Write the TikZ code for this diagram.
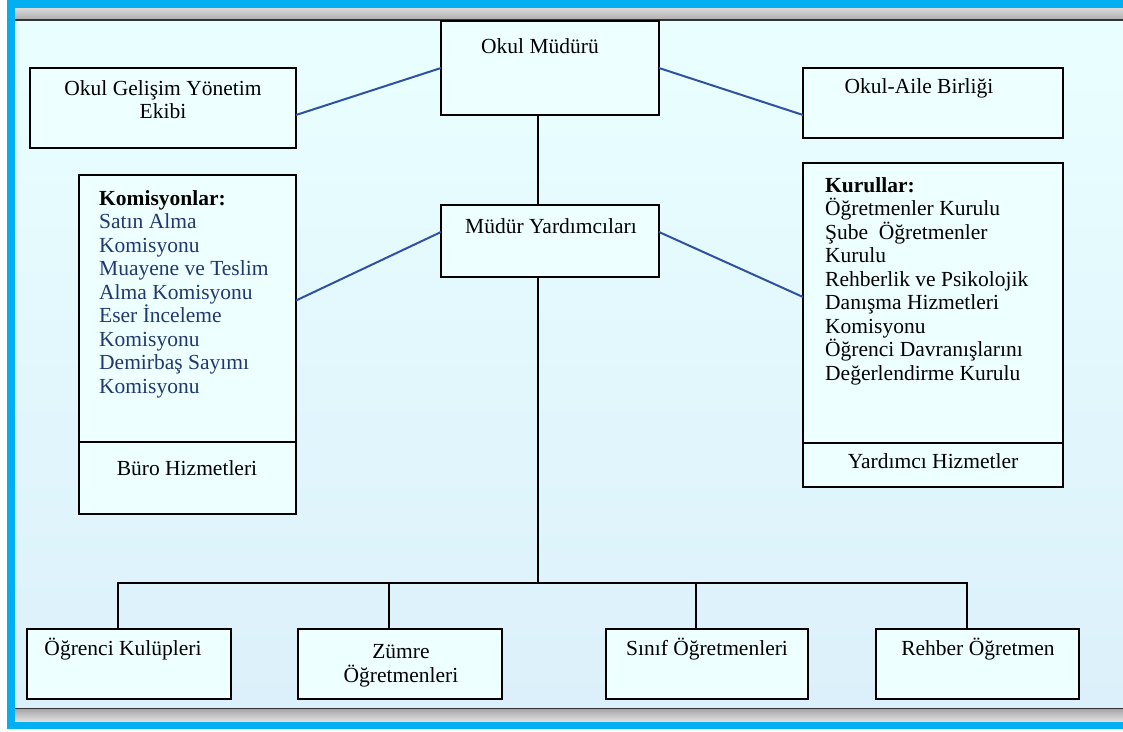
\documentclass[tikz,border=0pt]{standalone}
\usepackage{fontspec}
\setmainfont{Liberation Serif}
\usetikzlibrary{positioning}
\definecolor{framecyan}{RGB}{0,176,240}
\definecolor{paneltop}{RGB}{233,255,255}
\definecolor{panelbot}{RGB}{219,240,250}
\definecolor{boxfill}{RGB}{238,255,255}
\definecolor{linkblue}{RGB}{47,82,160}
\definecolor{listblue}{RGB}{32,56,112}

\tikzset{
  orgbox/.style={draw=black, line width=2pt, fill=boxfill, inner sep=0pt, outer sep=0pt},
  lbl/.style={inner sep=0pt, font=\fontsize{21.5}{23.5}\selectfont},
  link/.style={linkblue, line width=2pt},
  stem/.style={black, line width=2pt},
}

\begin{document}
\begin{tikzpicture}[x=1pt,y=-1pt]
  \useasboundingbox (0,0) rectangle (1123,731);
  % frame and panel
  \fill[white] (0,0) rectangle (1123,731);
  \fill[framecyan] (7,0) rectangle (1123,729);
  \shade[top color=gray!30, bottom color=gray!65] (15,8) rectangle (1123,20);
  \shade[top color=gray!70, bottom color=gray!25] (15,709) rectangle (1123,721);
  \shade[top color=paneltop, bottom color=panelbot] (15,21) rectangle (1123,708);
  \draw[line width=2pt, black!80] (15,20) -- (1123,20);
  \draw[line width=1.5pt, black!80] (15,708.5) -- (1123,708.5);

  % boxes
  \node[orgbox, minimum width=218pt, minimum height=94pt] (mudur) at (550,68) {};
  \node[orgbox, minimum width=266pt, minimum height=80pt] (ogye) at (163,108) {};
  \node[orgbox, minimum width=260pt, minimum height=70pt] (aile) at (933,103) {};
  \node[orgbox, minimum width=218pt, minimum height=72pt] (yard) at (550,241) {};
  \node[orgbox, minimum width=217pt, minimum height=267pt] (komis) at (187.5,308.5) {};
  \node[orgbox, minimum width=217pt, minimum height=72pt, below=0pt of komis] (buro) {};
  \node[orgbox, minimum width=260pt, minimum height=280pt] (kurul) at (933,303) {};
  \node[orgbox, minimum width=260pt, minimum height=44pt, below=0pt of kurul] (yhiz) {};
  \node[orgbox, minimum width=204pt, minimum height=70pt] (ogr) at (129,664) {};
  \node[orgbox, minimum width=204pt, minimum height=70pt] (zum) at (400,664) {};
  \node[orgbox, minimum width=202pt, minimum height=70pt] (sin) at (707,664) {};
  \node[orgbox, minimum width=203pt, minimum height=70pt] (reh) at (977.5,664) {};

  % texts (multi-line ones sit on the baseline of their last line)
  \node[lbl, anchor=base] (mudur-t) at (540,53) {Okul Müdürü};
  \node[lbl, anchor=base, align=center] (ogye-t) at (163,118.5) {Okul Gelişim Yönetim\\Ekibi};
  \node[lbl, anchor=base] (aile-t) at (919,93) {Okul-Aile Birliği};
  \node[lbl, anchor=base] (yard-t) at (551,233) {Müdür Yardımcıları};
  \node[lbl, anchor=base west, align=left, text=listblue] (komis-t) at (99,393)
    {\textcolor{black}{\textbf{Komisyonlar:}}\\Satın Alma\\Komisyonu\\Muayene ve Teslim\\Alma Komisyonu\\Eser İnceleme\\Komisyonu\\Demirbaş Sayımı\\Komisyonu};
  \node[lbl, anchor=base] (buro-t) at (187,475) {Büro Hizmetleri};
  \node[lbl, anchor=base west, align=left] (kurul-t) at (825,380)
    {\textbf{Kurullar:}\\Öğretmenler Kurulu\\Şube~ Öğretmenler\\Kurulu\\Rehberlik ve Psikolojik\\Danışma Hizmetleri\\Komisyonu\\Öğrenci Davranışlarını\\Değerlendirme Kurulu};
  \node[lbl, anchor=base] (yhiz-t) at (933,468) {Yardımcı Hizmetler};
  \node[lbl, anchor=base] (ogr-t) at (123,655) {Öğrenci Kulüpleri};
  \node[lbl, anchor=base, align=center] (zum-t) at (401,682) {Zümre\\Öğretmenleri};
  \node[lbl, anchor=base] (sin-t) at (707,655) {Sınıf Öğretmenleri};
  \node[lbl, anchor=base] (reh-t) at (978,655) {Rehber Öğretmen};

  % blue links
  \draw[link] (mudur.west) -- ([yshift=-7pt]ogye.east);
  \draw[link] (mudur.east) -- ([yshift=-12pt]aile.west);
  \draw[link] ([yshift=9pt]yard.west) -- ([yshift=8pt]komis.east);
  \draw[link] ([yshift=9pt]yard.east) -- ([yshift=6pt]kurul.west);

  % trunk and bus
  \coordinate (bus) at (538,583);
  \draw[stem] (mudur.south -| bus) -- (yard.north -| bus);
  \draw[stem] (yard.south -| bus) -- (bus);
  \foreach \n in {ogr,zum,sin,reh} \coordinate (\n-up) at ([xshift=-11pt]\n.north);
  \draw[stem] (ogr-up) -- (ogr-up |- bus) -- (reh-up |- bus) -- (reh-up);
  \draw[stem] (zum-up) -- (zum-up |- bus);
  \draw[stem] (sin-up) -- (sin-up |- bus);
\end{tikzpicture}
\end{document}
